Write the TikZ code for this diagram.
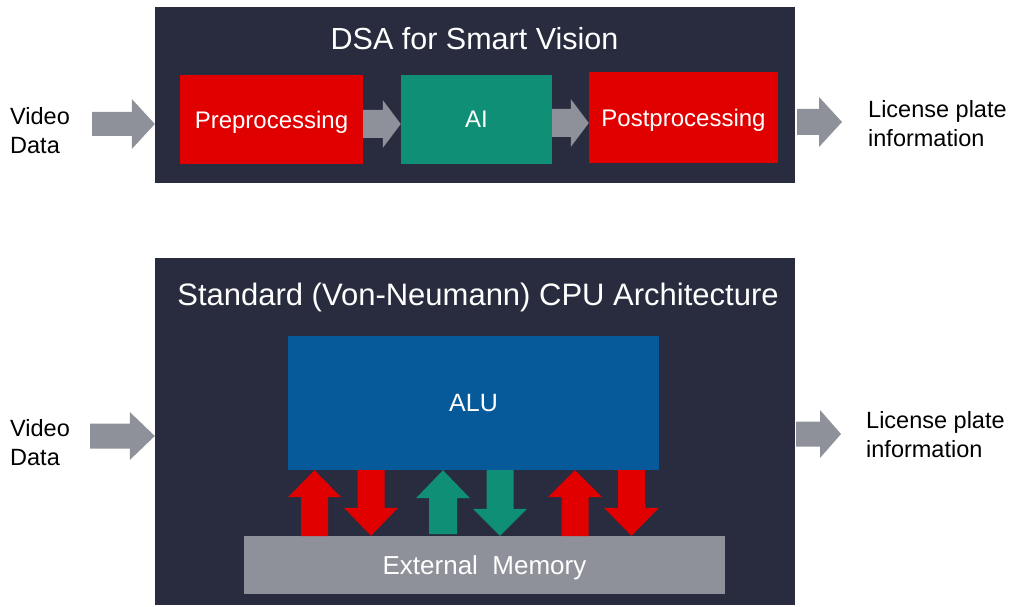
\documentclass[tikz,border=0pt]{standalone}
\usepackage{fontspec}
\setmainfont{Liberation Sans}
\usetikzlibrary{calc}

% block arrows drawn as connectors between two points
\tikzset{
  harrow/.style n args={3}{to path={let \p1=(\tikztostart), \p2=(\tikztotarget) in
    (\x1,\y1-#1) -- (\x2-#3,\y1-#1) -- (\x2-#3,\y1-#2) -- (\x2,\y1)
    -- (\x2-#3,\y1+#2) -- (\x2-#3,\y1+#1) -- (\x1,\y1+#1) -- cycle}},
  uparr/.style n args={3}{to path={let \p1=(\tikztostart), \p2=(\tikztotarget) in
    (\x1-#1,\y1) -- (\x1-#1,\y2-#3) -- (\x1-#2,\y2-#3) -- (\x1,\y2)
    -- (\x1+#2,\y2-#3) -- (\x1+#1,\y2-#3) -- (\x1+#1,\y1) -- cycle}},
  dnarr/.style n args={3}{to path={let \p1=(\tikztostart), \p2=(\tikztotarget) in
    (\x1-#1,\y1) -- (\x1-#1,\y2+#3) -- (\x1-#2,\y2+#3) -- (\x1,\y2)
    -- (\x1+#2,\y2+#3) -- (\x1+#1,\y2+#3) -- (\x1+#1,\y1) -- cycle}},
  box/.style={inner sep=0pt, text depth=0pt, text=white, font=\fontsize{24}{29}\selectfont},
  side/.style={inner sep=0pt, align=left, anchor=west, font=\fontsize{23.5}{29}\selectfont},
  title/.style={inner sep=0pt, anchor=base, text=white, font=\fontsize{30.5}{36}\selectfont}
}

\begin{document}
\begin{tikzpicture}[x=1pt, y=-1pt]

  \definecolor{panel}{RGB}{40, 44, 62}
  \definecolor{dsared}{RGB}{224, 0, 0}
  \definecolor{dsagreen}{RGB}{14, 143, 118}
  \definecolor{alublue}{RGB}{6, 90, 154}
  \definecolor{arrgray}{RGB}{142, 145, 153}

  \useasboundingbox (0, 0) rectangle (1013, 607);

  % DSA panel
  \node[fill=panel, inner sep=0pt, minimum width=640, minimum height=176] (dsa) at (475, 95) {};
  \node[title] (dsatitle) at (474.5, 50) {DSA for Smart Vision};
  \node[box, fill=dsared, minimum width=183, minimum height=89] (pre) at (271.5, 119.5) {Preprocessing};
  \node[box, fill=dsagreen, minimum width=151, minimum height=89] (ai) at (476.5, 119.5) {AI};
  \node[box, fill=dsared, minimum width=189, minimum height=91] (post) at (683.5, 117.5) {Postprocessing};

  % CPU panel
  \node[fill=panel, inner sep=0pt, minimum width=640, minimum height=347] (cpu) at (475, 431.5) {};
  \node[title, font=\fontsize{31}{36}\selectfont] (cputitle) at (478, 305) {Standard (Von-Neumann) CPU Architecture};
  \node[box, fill=alublue, minimum width=371, minimum height=134, font=\fontsize{25}{30}\selectfont] (alu) at (473.5, 403) {ALU};
  \node[box, fill=arrgray, minimum width=481, minimum height=58, font=\fontsize{26}{30}\selectfont] (mem) at (484.5, 565) {External\ \ Memory};

  % Outside texts
  \node[side] (vid1) at (10, 131) {Video\\Data};
  \node[side] (lic1) at (868, 124) {License plate\\information};
  \node[side] (vid2) at (10, 443) {Video\\Data};
  \node[side] (lic2) at (866, 435) {License plate\\information};

  % Free ends of the arrows
  \coordinate (in1) at (92, 124);
  \coordinate (in2) at (90, 436);
  \coordinate (out1) at (797, 122);
  \coordinate (out1tip) at (842, 122);
  \coordinate (out2) at (796, 434);
  \coordinate (out2tip) at (841, 434);
  \coordinate (prea) at (363, 124);
  \coordinate (aia) at (552, 123);

  % Horizontal block arrows
  \fill[arrgray] (in1) to[harrow={12pt}{25pt}{23pt}] (dsa.west);
  \fill[arrgray] (prea) to[harrow={14pt}{24pt}{18pt}] (ai.west);
  \fill[arrgray] (aia) to[harrow={14pt}{24pt}{18pt}] (post.west);
  \fill[arrgray] (out1) to[harrow={13pt}{25pt}{23pt}] (out1tip);
  \fill[arrgray] (in2) to[harrow={12.5pt}{24pt}{25pt}] (cpu.west);
  \fill[arrgray] (out2) to[harrow={12.5pt}{24pt}{21pt}] (out2tip);

  % Memory traffic
  \coordinate (u1) at (314.5, 536);
  \coordinate (d1) at (371, 470);
  \coordinate (u2) at (443, 534);
  \coordinate (d2) at (500, 470);
  \coordinate (u3) at (575, 536);
  \coordinate (d3) at (631.5, 470);

  \fill[dsared] (u1) to[uparr={13.5pt}{26.5pt}{27pt}] (alu.south);
  \fill[dsared] (d1) to[dnarr={13.5pt}{27pt}{28pt}] (mem.north);
  \fill[dsagreen] (u2) to[uparr={14pt}{27pt}{28pt}] (alu.south);
  \fill[dsagreen] (d2) to[dnarr={13.5pt}{27pt}{27pt}] (mem.north);
  \fill[dsared] (u3) to[uparr={13.5pt}{27pt}{27pt}] (alu.south);
  \fill[dsared] (d3) to[dnarr={13.5pt}{27.5pt}{28pt}] (mem.north);

\end{tikzpicture}
\end{document}
